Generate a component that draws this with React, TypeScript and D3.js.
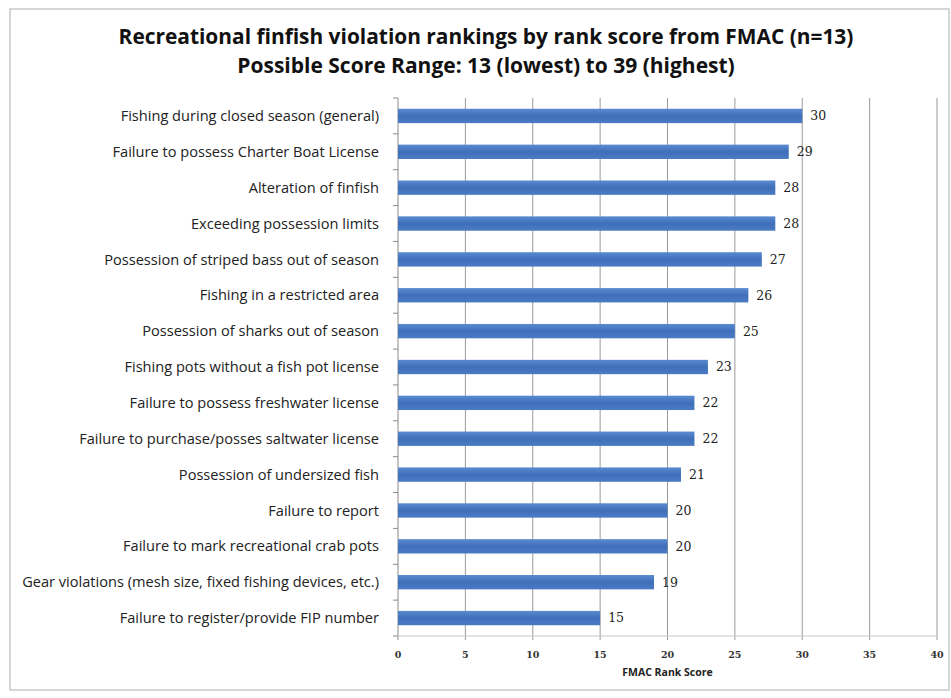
import React from "react";
import * as d3 from "d3";

const categories = [
  "Fishing during closed season (general)",
  "Failure to possess Charter Boat License",
  "Alteration of finfish",
  "Exceeding possession limits",
  "Possession of striped bass out of season",
  "Fishing in a restricted area",
  "Possession of sharks out of season",
  "Fishing pots without a fish pot license",
  "Failure to possess freshwater license",
  "Failure to purchase/posses saltwater license",
  "Possession of undersized fish",
  "Failure to report",
  "Failure to mark recreational crab pots",
  "Gear violations (mesh size, fixed fishing devices, etc.)",
  "Failure to register/provide FIP number",
];
const values = [30, 29, 28, 28, 27, 26, 25, 23, 22, 22, 21, 20, 20, 19, 15];
const xTicks = [0, 5, 10, 15, 20, 25, 30, 35, 40];
const titleLines = [
  "Recreational finfish violation rankings by rank score from FMAC (n=13)",
  "Possible Score Range: 13 (lowest) to 39 (highest)",
];
const xAxisTitle = "FMAC Rank Score";

const W = 951;
const H = 698;
const left = 398;
const right = 937;
const top = 98;
const bottom = 636;
const sans = "'Open Sans', Arial, sans-serif";
const serif = "'DejaVu Serif', 'Liberation Serif', serif";

export default function App() {
  const x = d3.scaleLinear().domain([0, 40]).range([left, right]);
  const y = d3.scaleBand<string>().domain(categories).range([top, bottom]).paddingInner(0.6).paddingOuter(0.3);
  const boundaries = d3.range(categories.length + 1).map((i) => top + i * ((bottom - top) / categories.length));
  return (
    <svg width={W} height={H} style={{ position: "absolute", left: 0, top: 0, background: "#fff" }}>
      <defs>
        <linearGradient id="barg" x1="0" y1="0" x2="0" y2="1">
          <stop offset="0" stopColor="#5a8ad0" />
          <stop offset="0.5" stopColor="#3f6fb8" />
          <stop offset="1" stopColor="#4a7bc4" />
        </linearGradient>
      </defs>
      <rect x={10} y={9} width={W - 12} height={H - 17} fill="#fff" stroke="#c8c8c8" strokeWidth={1.5} />
      {titleLines.map((t, i) => (
        <text key={i} x={486} y={44 + i * 29} textAnchor="middle" fontFamily={sans} fontWeight="bold" fontSize={i === 0 ? 20.9 : 21} fill="#111">
          {t}
        </text>
      ))}
      {xTicks.slice(1).map((t) => (
        <line key={t} x1={x(t)} x2={x(t)} y1={top} y2={bottom + 4} stroke="#9a9a9a" strokeWidth={1} />
      ))}
      <line x1={left} x2={left} y1={top} y2={bottom + 4} stroke="#8a8a8a" />
      <line x1={left} x2={right} y1={bottom} y2={bottom} stroke="#c8c8c8" />
      {boundaries.map((b, i) => (
        <line key={i} x1={left - 5} x2={left} y1={b} y2={b} stroke="#8a8a8a" />
      ))}
      {categories.map((c, i) => {
        const yy = y(c)!;
        const bw = y.bandwidth();
        return (
          <g key={c}>
            <rect x={x(0)} y={yy} width={x(values[i]) - x(0)} height={bw} fill="url(#barg)" />
            <text x={left - 19} y={yy + bw / 2} dy="0.35em" textAnchor="end" fontFamily={sans} fontSize={14.6} fill="#222">
              {c}
            </text>
            <text x={x(values[i]) + 8} y={yy + bw / 2} dy="0.35em" fontFamily={serif} fontSize={12.5} fill="#222">
              {values[i]}
            </text>
          </g>
        );
      })}
      {xTicks.map((t) => (
        <text key={t} x={x(t)} y={bottom + 22} textAnchor="middle" fontFamily={serif} fontWeight="bold" fontSize={9.5} fill="#333">
          {t}
        </text>
      ))}
      <text x={x(20)} y={bottom + 40} textAnchor="middle" fontFamily={sans} fontWeight="bold" fontSize={10.5} fill="#222">
        {xAxisTitle}
      </text>
    </svg>
  );
}
